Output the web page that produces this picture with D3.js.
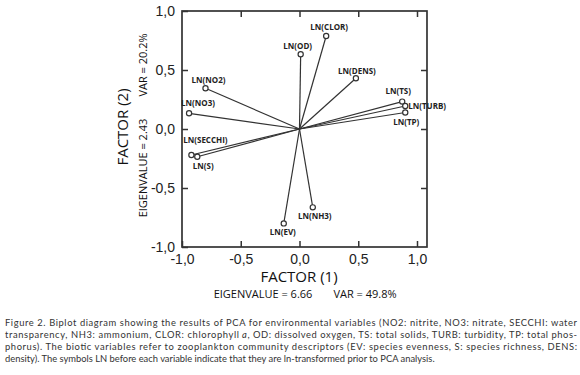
<!DOCTYPE html>
<html>
<head>
<meta charset="utf-8">
<script src="https://cdn.jsdelivr.net/npm/d3@7"></script>
<style>
body{margin:0;background:#fff;}
svg{display:block;}
</style>
</head>
<body>
<svg id="chart" width="580" height="375"></svg>
<script>
//pca biplot

var vars = ["LN(CLOR)","LN(OD)","LN(DENS)","LN(NO2)","LN(NO3)","LN(TS)","LN(TURB)","LN(TP)","LN(SECCHI)","LN(S)","LN(NH3)","LN(EV)"];
var factor1 = [0.227, 0.01, 0.48, -0.80, -0.94, 0.874, 0.90, 0.90, -0.92, -0.87, 0.113, -0.134];
var factor2 = [0.788, 0.633, 0.43, 0.345, 0.133, 0.232, 0.195, 0.14, -0.22, -0.235, -0.664, -0.80];
// label offsets (px) and anchor
var labDx = [3, -3, 1, 3, 9, -4, 3, 1, 14, 6, 2, -1];
var labDy = [-9, -8, -7, -8, -10, -10, 0, 10, -15, 9, 9, 9];
var labAnchor = ["middle","middle","middle","middle","middle","middle","start","middle","middle","middle","middle","middle"];

var tickVals = [-1, -0.5, 0, 0.5, 1];
// each caption line split in parts, odd parts are italic
var caption = [
	["Figure 2. Biplot diagram showing the results of PCA for environmental variables (NO2: nitrite, NO3: nitrate, SECCHI: water"],
	["transparency, NH3: ammonium, CLOR: chlorophyll\u00a0", "a", ", OD: dissolved oxygen, TS: total solids, TURB: turbidity, TP: total phos-"],
	["phorus). The biotic variables refer to zooplankton community descriptors (EV: species evenness, S: species richness, DENS:"],
	["density). The symbols LN before each variable indicate that they are ln-transformed prior to PCA analysis."]
];
var capWidths = [572, 572, 572, 430];

var svg = d3.select("#chart");
var x = d3.scaleLinear().domain([-1, 1]).range([182, 417]);
var y = d3.scaleLinear().domain([-1, 1]).range([247, 11]);
var xMax = 1.085;
var fmt = function(d){ return d3.format(".1f")(d).replace(".", ",").replace("−","-"); };
var axisColor = "#333";

// frame
svg.append("rect")
	.attr("x", x(-1)).attr("y", y(1))
	.attr("width", x(xMax) - x(-1)).attr("height", y(-1) - y(1))
	.attr("fill", "none").attr("stroke", axisColor).attr("stroke-width", 1.7);

function styleAxis(g){
	g.select(".domain").remove();
	g.selectAll(".tick line").attr("stroke", axisColor).attr("stroke-width", 1.5);
	g.selectAll(".tick text").attr("fill", "#222")
		.style("font-family", "'Liberation Sans', Arial, sans-serif").style("font-size", "14px");
}

svg.append("g").attr("transform", "translate(0," + y(-1) + ")")
	.call(d3.axisBottom(x).tickValues(tickVals).tickFormat(fmt).tickSizeInner(-6).tickSizeOuter(0).tickPadding(7))
	.call(styleAxis);
svg.append("g").attr("transform", "translate(" + x(-1) + ",0)")
	.call(d3.axisLeft(y).tickValues(tickVals).tickFormat(fmt).tickSizeInner(-6).tickSizeOuter(0).tickPadding(7))
	.call(styleAxis);
svg.append("g").attr("transform", "translate(0," + y(1) + ")")
	.call(d3.axisTop(x).tickValues([-0.5, 0, 0.5, 1]).tickFormat("").tickSizeInner(-6).tickSizeOuter(0))
	.call(styleAxis);
svg.append("g").attr("transform", "translate(" + x(xMax) + ",0)")
	.call(d3.axisRight(y).tickValues([-0.5, 0, 0.5]).tickFormat("").tickSizeInner(-6).tickSizeOuter(0))
	.call(styleAxis);

// vectors
var plot = svg.append("g").attr("id", "plot");
var pts = vars.map(function(v, i){ return {name:v, f1:factor1[i], f2:factor2[i], i:i}; });

plot.selectAll("line.vec").data(pts).enter().append("line")
	.attr("class", "vec")
	.attr("x1", x(0)).attr("y1", y(0))
	.attr("x2", function(d){ return x(d.f1); })
	.attr("y2", function(d){ return y(d.f2); })
	.attr("stroke", "#333").attr("stroke-width", 1.2);

plot.selectAll("circle.pt").data(pts).enter().append("circle")
	.attr("class", "pt")
	.attr("cx", function(d){ return x(d.f1); })
	.attr("cy", function(d){ return y(d.f2); })
	.attr("r", 2.6)
	.attr("fill", "#fff").attr("stroke", "#333").attr("stroke-width", 1.2);

plot.selectAll("text.lab").data(pts).enter().append("text")
	.attr("class", "lab")
	.attr("x", function(d){ return x(d.f1) + labDx[d.i]; })
	.attr("y", function(d){ return y(d.f2) + labDy[d.i]; })
	.attr("dy", "0.35em")
	.attr("text-anchor", function(d){ return labAnchor[d.i]; })
	.style("font-family", "'Liberation Sans Narrow', 'Open Sans', sans-serif")
	.style("font-size", "8px")
	.style("font-weight", "bold")
	.attr("fill", "#222")
	.text(function(d){ return d.name; });

// axis titles
var titleFont = "'Liberation Sans Narrow', 'Open Sans', sans-serif";
svg.append("text").attr("x", 299).attr("y", 277).attr("dy", "0.35em")
	.attr("text-anchor", "middle").style("font-family", titleFont).style("font-size", "15px").attr("fill", "#111")
	.text("FACTOR (1)");
svg.append("text").attr("x", 263).attr("y", 294).attr("dy", "0.35em")
	.attr("text-anchor", "middle").style("font-family", titleFont).style("font-size", "11px").attr("fill", "#111")
	.text("EIGENVALUE = 6.66");
svg.append("text").attr("x", 365).attr("y", 294).attr("dy", "0.35em")
	.attr("text-anchor", "middle").style("font-family", titleFont).style("font-size", "11px").attr("fill", "#111")
	.text("VAR = 49.8%");

svg.append("text").attr("transform", "translate(123,127) rotate(-90)").attr("dy", "0.35em")
	.attr("text-anchor", "middle").style("font-family", titleFont).style("font-size", "15px").attr("fill", "#111")
	.text("FACTOR (2)");
svg.append("text").attr("transform", "translate(143,168) rotate(-90)").attr("dy", "0.35em")
	.attr("text-anchor", "middle").style("font-family", titleFont).style("font-size", "11px").attr("fill", "#111")
	.text("EIGENVALUE = 2.43");
svg.append("text").attr("transform", "translate(143,65) rotate(-90)").attr("dy", "0.35em")
	.attr("text-anchor", "middle").style("font-family", titleFont).style("font-size", "11px").attr("fill", "#111")
	.text("VAR = 20.2%");

// caption: font size picked so the last line has its width, then lines are justified
var capG = svg.append("g").attr("class", "caption");
var capFont = "Lato, 'Open Sans', sans-serif";
var probe = capG.append("text").style("font-family", capFont).style("font-size", "10px").text(caption[3].join(""));
var capSize = 10 * capWidths[3] / probe.node().getComputedTextLength();
probe.remove();

caption.forEach(function(parts, i){
	var baseY = 326 + i * 12;
	var nodes = parts.map(function(part, j){
		return capG.append("text")
			.attr("y", baseY)
			.style("font-family", capFont).style("font-size", capSize + "px")
			.style("font-style", j % 2 === 1 ? "italic" : null)
			.attr("fill", "#333")
			.text(part);
	});
	var natural = nodes.map(function(t){ return t.node().getComputedTextLength(); });
	var k = capWidths[i] / d3.sum(natural);
	var cx = 5;
	nodes.forEach(function(t, j){
		var w = natural[j] * k;
		t.attr("x", cx);
		if (i < 3) t.attr("textLength", w).attr("lengthAdjust", "spacing");
		cx += w;
	});
});
</script>
</body>
</html>
